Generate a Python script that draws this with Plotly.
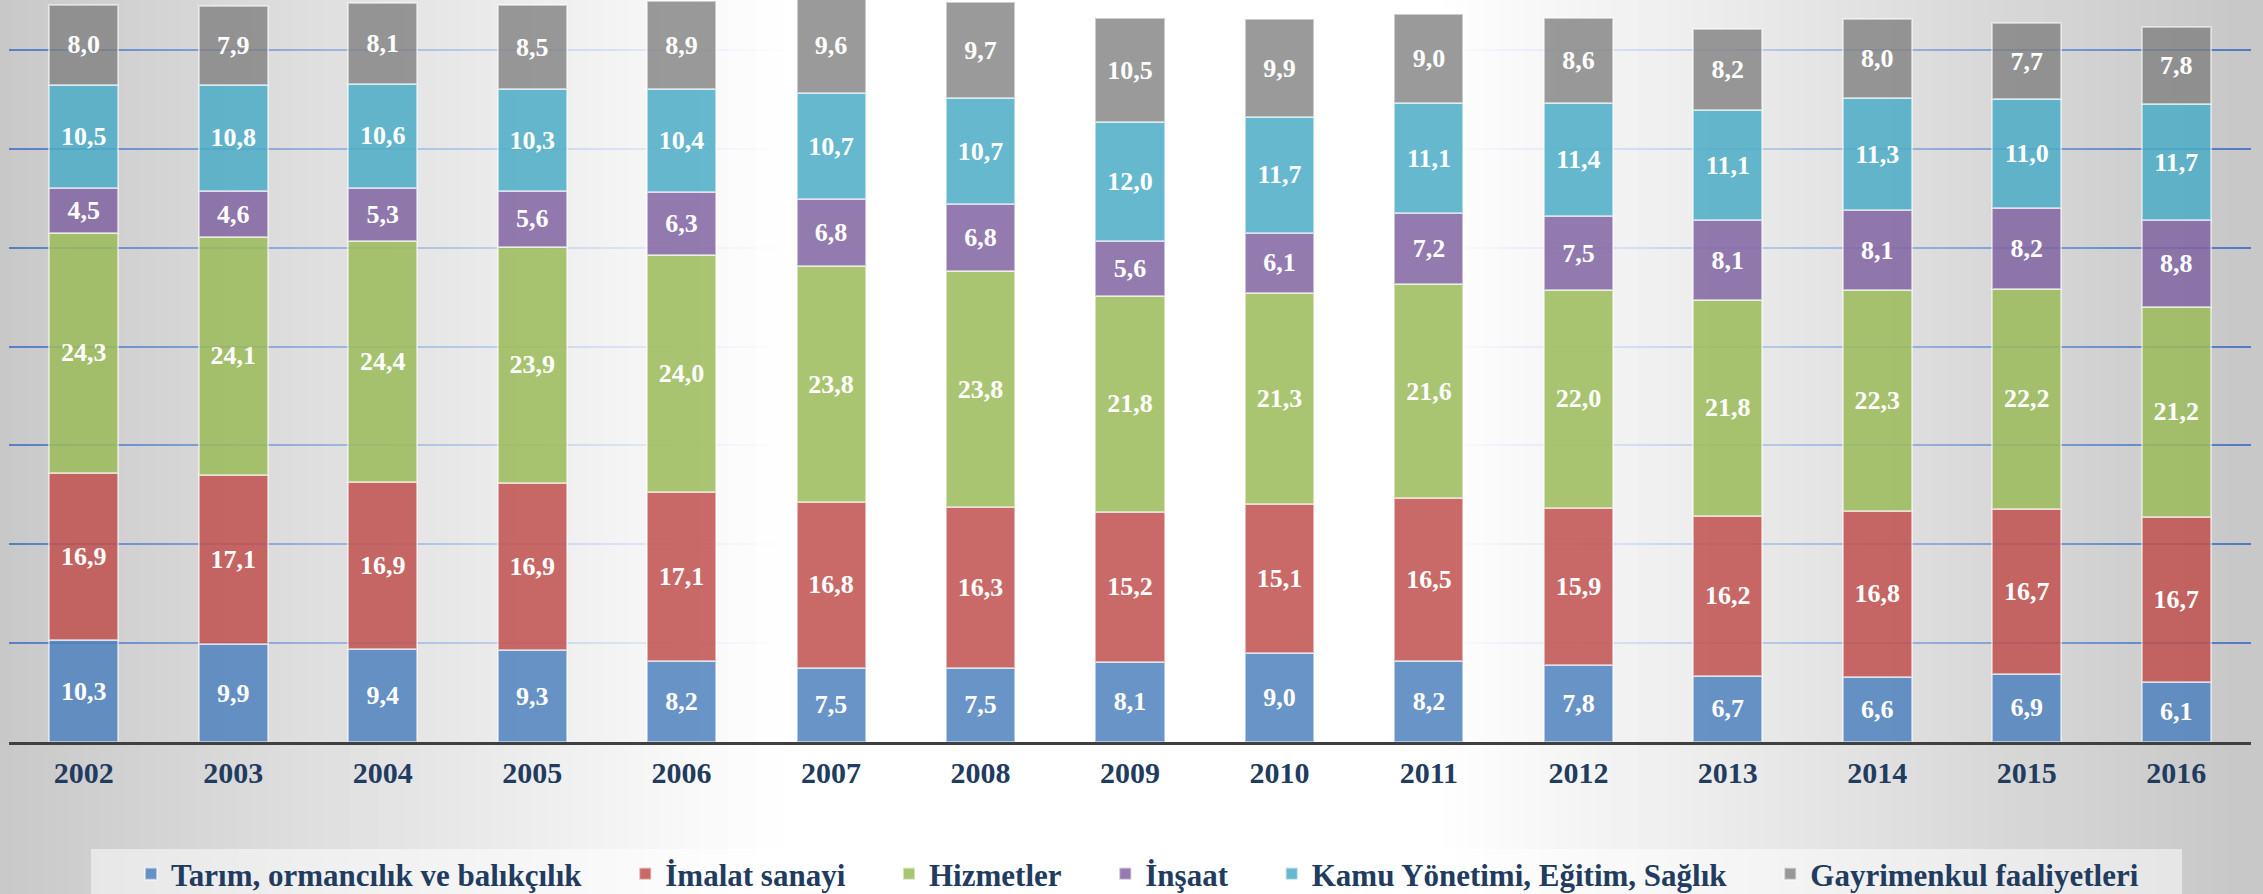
import numpy as np
import plotly.graph_objects as go

# ---------------- data ----------------
years = ["2002", "2003", "2004", "2005", "2006", "2007", "2008", "2009",
         "2010", "2011", "2012", "2013", "2014", "2015", "2016"]
series_names = ["Tarım, ormancılık ve balıkçılık", "İmalat sanayi", "Hizmetler",
                "İnşaat", "Kamu Yönetimi, Eğitim, Sağlık", "Gayrimenkul faaliyetleri"]
tarim = [10.3, 9.9, 9.4, 9.3, 8.2, 7.5, 7.5, 8.1, 9.0, 8.2, 7.8, 6.7, 6.6, 6.9, 6.1]
imalat = [16.9, 17.1, 16.9, 16.9, 17.1, 16.8, 16.3, 15.2, 15.1, 16.5, 15.9, 16.2, 16.8, 16.7, 16.7]
hizmetler = [24.3, 24.1, 24.4, 23.9, 24.0, 23.8, 23.8, 21.8, 21.3, 21.6, 22.0, 21.8, 22.3, 22.2, 21.2]
insaat = [4.5, 4.6, 5.3, 5.6, 6.3, 6.8, 6.8, 5.6, 6.1, 7.2, 7.5, 8.1, 8.1, 8.2, 8.8]
kamu = [10.5, 10.8, 10.6, 10.3, 10.4, 10.7, 10.7, 12.0, 11.7, 11.1, 11.4, 11.1, 11.3, 11.0, 11.7]
gayrimenkul = [8.0, 7.9, 8.1, 8.5, 8.9, 9.6, 9.7, 10.5, 9.9, 9.0, 8.6, 8.2, 8.0, 7.7, 7.8]

series_values = [tarim, imalat, hizmetler, insaat, kamu, gayrimenkul]
series_colors = ["rgba(79,129,189,0.85)", "rgba(192,80,77,0.85)", "rgba(155,187,89,0.85)",
                 "rgba(128,100,162,0.85)", "rgba(75,172,198,0.85)", "rgba(127,127,127,0.79)"]

# ---------------- geometry ----------------
W, H = 2263, 930          # page viewport is 894 tall; the legend box runs off the bottom
ML, MR, MT = 9, 12, 0
PH = 742
MB = H - MT - PH
PW = W - ML - MR
Y_TOP = 75.05
NCAT = len(years)
GLOW_CX, GLOW_IN, GLOW_SPAN = 1110.0, 320.0, 810.0
EDGE_GRAY = 200
NBSP = "\u00a0"


def glow_alpha(px):
    t = min(max((abs(px - GLOW_CX) - GLOW_IN) / GLOW_SPAN, 0.0), 1.0)
    return 1.0 - t


fig = go.Figure()
for i, (name, vals, col) in enumerate(zip(series_names, series_values, series_colors)):
    label = name if i == len(series_names) - 1 else name + NBSP * 5
    fig.add_trace(go.Bar(
        x=years, y=vals, name=label,
        marker=dict(color=col, line=dict(color="rgba(255,255,255,0.5)", width=2)),
        texttemplate="%{y:.1f}", textposition="inside", insidetextanchor="middle",
        textangle=0,
        textfont=dict(family="Liberation Serif", size=26, color="white", weight="bold"),
    ))

# white glow: over the gridlines inside the plot area, and in the bottom margin
shapes = []
step = 14
unit = PW / NCAT
p = 0
while p < W:
    p2 = min(p + step, W)
    a = glow_alpha((p + p2) / 2.0)
    if a > 0.003:
        fill = f"rgba(255,255,255,{a:.3f})"
        lo, hi = max(p, ML), min(p2, ML + PW)
        if hi > lo:
            shapes.append(dict(
                type="rect", layer="between", xref="x", yref="y",
                x0=(lo - ML) / unit - 0.5, x1=(hi - ML) / unit - 0.5, y0=0, y1=Y_TOP,
                fillcolor=fill, line=dict(width=0),
            ))
        shapes.append(dict(
            type="rect", layer="below", xref="paper", yref="paper",
            x0=(p - ML) / PW, x1=(p2 - ML) / PW, y0=0, y1=-(MB + 2) / PH,
            fillcolor=fill, line=dict(width=0),
        ))
    p = p2

# legend background box
shapes.append(dict(
    type="rect", layer="below", xref="paper", yref="paper",
    x0=(91 - ML) / PW, x1=(2182 - ML) / PW,
    y0=(PH - (849 - MT)) / PH, y1=(PH - (H + 2 - MT)) / PH,
    fillcolor="rgba(255,255,255,0.5)", line=dict(width=0),
))

fig.update_layout(
    width=W, height=H,
    margin=dict(l=ML, r=MR, t=MT, b=MB, pad=0, autoexpand=False),
    barmode="stack", bargap=0.538,
    separators=",.",
    paper_bgcolor=f"rgb({EDGE_GRAY},{EDGE_GRAY},{EDGE_GRAY})",
    plot_bgcolor=f"rgb({EDGE_GRAY},{EDGE_GRAY},{EDGE_GRAY})",
    font=dict(family="Liberation Serif", color="#223c60"),
    showlegend=True,
    legend=dict(
        orientation="h", x=(131 - ML) / PW, xanchor="left",
        y=(PH - (874 - MT)) / PH, yanchor="middle",
        bgcolor="rgba(0,0,0,0)",
        font=dict(family="Liberation Serif", size=31, color="#223c60", weight="bold"),
        traceorder="normal",
    ),
    xaxis=dict(
        type="category", range=[-0.5, NCAT - 0.5], automargin=False,
        showline=True, linecolor="#404040", linewidth=3,
        showgrid=False, ticks="", ticklabelstandoff=2,
        tickfont=dict(family="Liberation Serif", size=30, color="#223c60", weight="bold"),
    ),
    yaxis=dict(
        range=[0, Y_TOP], dtick=10, tick0=0, automargin=False,
        showgrid=True, gridcolor="rgba(68,114,196,0.9)", gridwidth=2,
        zeroline=False, showticklabels=False, showline=False, ticks="",
    ),
    shapes=shapes,
)

fig.write_html(
    "out.html",
    config={"displayModeBar": False},
    post_script="document.body.style.margin='0px';document.body.style.overflow='hidden';",
)
